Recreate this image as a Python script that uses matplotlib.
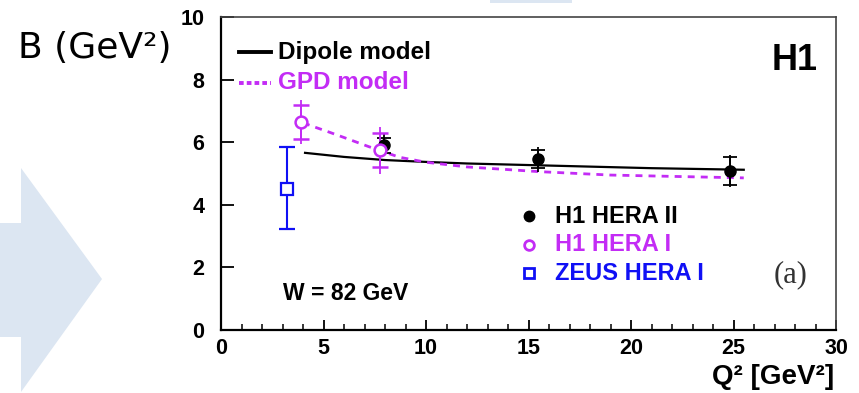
import numpy as np
import matplotlib
matplotlib.use('Agg')
import matplotlib.pyplot as plt
from matplotlib.patches import Polygon, Rectangle

# H1 HERA II measurements
h1_q2 = [7.97, 15.46, 24.85]
h1_b = [5.90, 5.46, 5.08]
h1_stat = [0.25, 0.29, 0.45]
h1_tot = [0.35, 0.40, 0.52]

# H1 HERA I measurements
h1old_q2 = [3.9, 7.78]
h1old_b = [6.64, 5.75]
h1old_stat = [0.55, 0.55]
h1old_tot = [0.70, 0.75]

# ZEUS HERA I measurement
zeus_q2 = [3.24]
zeus_b = [4.50]
zeus_up = [1.35]
zeus_dn = [1.28]

# Model curves
dipole_q2 = [4.1, 6.0, 8.0, 10.0, 12.0, 15.0, 18.0, 21.0, 25.5]
dipole_b = [5.66, 5.53, 5.43, 5.37, 5.32, 5.27, 5.22, 5.17, 5.12]
gpd_q2 = [4.0, 4.5, 5.2, 6.0, 7.2, 8.7, 10.0, 12.0, 15.5, 19.0, 23.3, 25.5]
gpd_b = [6.62, 6.50, 6.34, 6.15, 5.86, 5.52, 5.36, 5.21, 5.06, 4.95, 4.89, 4.86]

MAG = '#c32cf5'
BLUE = '#1010f5'
BG = '#dce6f2'

plt.rcParams['font.family'] = ['Liberation Sans', 'DejaVu Sans']

W, H = 859, 393
fig = plt.figure(figsize=(8.59, 3.93), dpi=100)


def px(x, y):
    return (x / W, 1 - y / H)


# light blue arrow and strip in the background
fig.patches.append(Polygon([px(0, 223), px(21, 223), px(21, 168), px(102, 279),
                            px(21, 392), px(21, 337), px(0, 337)],
                           closed=True, transform=fig.transFigure,
                           facecolor=BG, edgecolor='none', zorder=0))
fig.patches.append(Rectangle(px(490, 3), 82 / W, 3 / H, transform=fig.transFigure,
                             facecolor=BG, edgecolor='none', zorder=0))

ax = fig.add_axes([221 / W, 1 - 330 / H, 615 / W, 313 / H])
ax.set_facecolor('none')

# models
ax.plot(dipole_q2, dipole_b, color='black', lw=1.6, zorder=3)
ax.plot(gpd_q2, gpd_b, color=MAG, lw=2.0, linestyle=(0, (2.5, 2.2)), zorder=3)

# data: total error as plain line, statistical error with caps
ax.errorbar(h1_q2, h1_b, yerr=h1_tot, fmt='none', ecolor='black', elinewidth=1.3, zorder=4)
ax.errorbar(h1_q2, h1_b, yerr=h1_stat, fmt='o', color='black', ms=8,
            elinewidth=1.3, capsize=5, capthick=1.3, zorder=5)
ax.errorbar(h1old_q2, h1old_b, yerr=h1old_tot, fmt='none', ecolor=MAG, elinewidth=1.3, zorder=4)
ax.errorbar(h1old_q2, h1old_b, yerr=h1old_stat, fmt='o', color=MAG, mfc='white',
            mec=MAG, mew=1.8, ms=8.5, elinewidth=1.3, capsize=6, capthick=1.3, zorder=5)
ax.errorbar(zeus_q2, zeus_b, yerr=[zeus_dn, zeus_up], fmt='s', color=BLUE, mfc='white',
            mec=BLUE, mew=1.6, ms=8, elinewidth=1.5, capsize=6, capthick=1.5, zorder=5)

ax.set_xlim(0, 30)
ax.set_ylim(0, 10)
ax.set_xticks([0, 5, 10, 15, 20, 25, 30])
ax.set_xticks(np.arange(0, 31, 1), minor=True)
ax.set_yticks([0, 2, 4, 6, 8, 10])
ax.tick_params(axis='x', which='major', direction='in', length=7.5, width=1.3, pad=6)
ax.tick_params(axis='x', which='minor', direction='in', length=4.5, width=1.1)
ax.tick_params(axis='y', which='major', direction='in', length=9, width=1.3, pad=12)
ax.tick_params(top=False, right=False)
for lab in ax.get_xticklabels() + ax.get_yticklabels():
    lab.set_fontweight('bold')
    lab.set_fontsize(15.5)

for side in ['left', 'bottom']:
    ax.spines[side].set_linewidth(1.6)
    ax.spines[side].set_color('black')
for side in ['top', 'right']:
    ax.spines[side].set_linewidth(1.2)
    ax.spines[side].set_color('#444444')

# model legend
ax.plot([0.88, 2.45], [8.88, 8.88], color='black', lw=2.8, clip_on=False)
ax.text(2.8, 8.88, 'Dipole model', fontsize=17.5, fontweight='bold', va='center')
ax.plot([0.88, 2.45], [7.9, 7.9], color=MAG, lw=2.8, linestyle=(0, (1.2, 0.8)), clip_on=False)
ax.text(2.8, 7.9, 'GPD model', fontsize=17.5, fontweight='bold', va='center', color=MAG)

# data legend
ax.plot([15.0], [3.64], 'o', color='black', ms=7.5)
ax.text(16.3, 3.64, 'H1 HERA II', fontsize=17, fontweight='bold', va='center')
ax.plot([15.0], [2.72], 'o', mfc='white', mec=MAG, mew=2.0, ms=7)
ax.text(16.3, 2.72, 'H1 HERA I', fontsize=17, fontweight='bold', va='center', color=MAG)
ax.plot([15.0], [1.82], 's', mfc='white', mec=BLUE, mew=2.0, ms=7)
ax.text(16.3, 1.82, 'ZEUS HERA I', fontsize=17, fontweight='bold', va='center', color=BLUE)

ax.text(29.1, 8.62, 'H1', fontsize=26, fontweight='bold', ha='right', va='center')
ax.text(28.6, 1.76, '(a)', fontsize=22, family='Liberation Serif', ha='right', va='center',
        color='#333333')
ax.text(3.0, 1.18, 'W = 82 GeV', fontsize=16.5, fontweight='bold', va='center')

# axis titles
fig.text(834 / W, 1 - 377 / H, 'Q² [GeV²]', fontsize=20, fontweight='bold',
         ha='right', va='center')
fig.text(18 / W, 1 - 48 / H, 'B (GeV²)', fontsize=26, family='DejaVu Sans',
         ha='left', va='center')

fig.savefig('out.png', dpi=100)
